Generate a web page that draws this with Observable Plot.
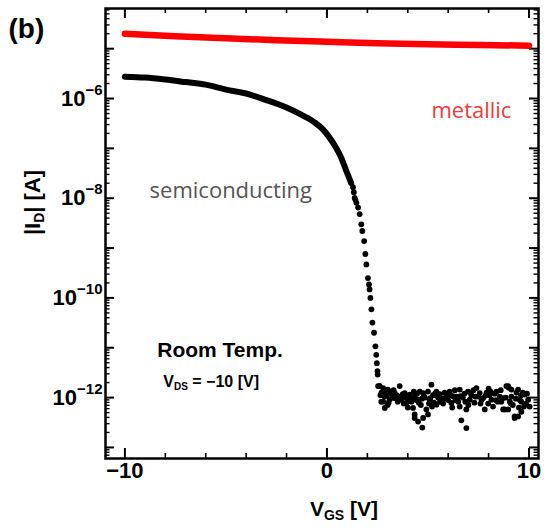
<!DOCTYPE html>
<html><head><meta charset="utf-8">
<script src="https://cdn.jsdelivr.net/npm/d3@7"></script>
<script src="https://cdn.jsdelivr.net/npm/@observablehq/plot@0.6"></script>
<style>html,body{margin:0;padding:0;background:#fff;} #chart{width:549px;height:531px;overflow:hidden;}</style>
</head><body><div id="chart"></div>
<script>
// ---- data ----
const metalVgs = [-10, -7.5, -5, -2.5, 0, 2.5, 5, 7.5, 10];
const metalId  = [2.0e-5, 1.78e-5, 1.62e-5, 1.48e-5, 1.38e-5, 1.29e-5, 1.23e-5, 1.19e-5, 1.15e-5];

const semiLineVgs = [-10, -9, -8, -7, -6, -5, -4, -3, -2, -1.3, -0.6, -0.2, 0.1, 0.4, 0.7, 0.95, 1.2];
const semiLineId  = [2.75e-6, 2.63e-6, 2.4e-6, 2.14e-6, 1.9e-6, 1.51e-6, 1.26e-6, 9.3e-7, 6.6e-7, 4.8e-7, 3.3e-7, 2.4e-7, 1.7e-7, 1.12e-7, 6.6e-8, 3.6e-8, 2.0e-8];

const semiDotVgs = [
  1.29, 1.33, 1.37, 1.41, 1.46, 1.54, 1.62, 1.70, 1.75, 1.84, 1.90, 1.95, 2.03, 2.08, 2.11, 2.15, 2.20, 2.25, 2.33, 2.40, 2.44, 2.47, 2.50, 2.51, 2.60,
  2.53, 2.61, 2.69, 2.78, 2.78, 2.86, 2.90, 2.95, 3.02, 3.10, 3.15, 3.19, 3.25, 3.35, 3.35, 3.45, 3.50, 3.60, 3.62, 3.68,
  3.75, 3.85, 3.90, 3.93, 4.00, 4.10, 4.18, 4.22, 4.26, 4.34, 4.34, 4.34, 4.42, 4.45, 4.51, 4.51, 4.59, 4.65, 4.70, 4.76,
  4.76, 4.72, 4.85, 4.92, 5.00, 5.00, 5.08, 5.12, 5.17, 5.25, 5.30, 5.42, 5.42, 5.50, 5.58, 5.66, 5.75, 5.82, 5.91, 6.00,
  6.07, 6.16, 6.25, 6.33, 6.41, 6.50, 6.57, 6.57, 6.65, 6.72, 6.80, 6.90, 6.90, 6.98, 7.07, 7.15, 7.25, 7.30, 7.40, 7.48,
  7.56, 7.65, 7.73, 7.81, 7.90, 7.98, 8.05, 8.14, 8.22, 8.30, 8.39, 8.45, 8.55, 8.63, 8.72, 8.72, 8.80, 8.88, 8.97, 8.97,
  9.05, 9.13, 9.13, 9.20, 9.29, 9.29, 9.38, 9.46, 9.46, 9.55, 9.62, 9.62, 9.70, 9.79, 9.85, 9.96, 10.03,
  2.70, 2.85, 3.05, 3.30, 3.55, 3.80, 4.05, 4.30, 4.55, 4.80, 5.05, 5.35, 5.60, 5.85, 6.10, 6.35, 6.60, 6.85, 7.10, 7.35,
  7.60, 7.85, 8.10, 8.35, 8.60, 8.85, 9.10, 9.35, 9.60, 9.75, 9.90, 9.50, 9.00, 8.00, 7.00, 6.20, 5.20, 4.00, 3.00, 2.65
];
const semiDotId = [
  1.66e-8, 1.32e-8, 1.02e-8, 9.3e-9, 8.1e-9, 6.5e-9, 4.8e-9, 3.0e-9, 2.2e-9, 1.38e-9, 7.6e-10, 4.7e-10, 2.5e-10, 1.86e-10, 1.48e-10, 1.0e-10, 5.9e-11, 3.2e-11, 2.0e-11, 1.07e-11, 7.2e-12, 4.9e-12, 3.4e-12, 2.9e-12, 1.7e-12,
  1.7e-12, 1.7e-12, 8.3e-13, 1.55e-12, 8.3e-13, 6.2e-13, 1.41e-12, 1.12e-12, 1.45e-12, 9.1e-13, 1.2e-12, 1.32e-12, 1.0e-12, 1.23e-12, 9.8e-13, 1.12e-12, 8.3e-13, 1.7e-12, 1.05e-12, 9.1e-13,
  1.17e-12, 1.23e-12, 1.0e-12, 7.8e-13, 1.1e-12, 1.15e-12, 8.3e-13, 1.0e-12, 6.2e-13, 1.05e-12, 4.6e-13, 3.9e-13, 8.9e-13, 1.2e-12, 9.1e-13, 3.3e-13, 1.32e-12, 7.1e-13, 9.5e-13, 1.23e-12,
  3.9e-13, 2.5e-13, 1.0e-12, 5.8e-13, 1.32e-12, 4.6e-13, 9.1e-13, 9.8e-13, 1.82e-12, 1.12e-12, 7.9e-13, 1.32e-12, 7.2e-13, 1.0e-12, 1.17e-12, 9.8e-13, 7.6e-13, 1.26e-12, 1.15e-12, 8.9e-13,
  1.32e-12, 7.8e-13, 1.07e-12, 1.41e-12, 1.05e-12, 8.3e-13, 1.45e-12, 6.6e-13, 3.5e-13, 1.0e-12, 1.2e-12, 5.8e-13, 2.45e-13, 1.32e-12, 9.1e-13, 1.12e-12, 1.41e-12, 7.9e-13, 1.55e-12, 1.05e-12,
  1.23e-12, 8.9e-13, 9.8e-13, 5.8e-13, 1.26e-12, 7.6e-13, 1.12e-12, 9.1e-13, 6.6e-13, 1.2e-12, 1.32e-12, 8.3e-13, 1.05e-12, 8.3e-13, 9.8e-13, 5.8e-13, 5.8e-13, 1.7e-12, 5.8e-13, 1.7e-12,
  8.3e-13, 1.45e-12, 1.05e-12, 7.1e-13, 4.2e-13, 3.9e-13, 1.26e-12, 1.45e-12, 4.2e-13, 8.9e-13, 5.2e-13, 8.3e-13, 1.26e-12, 1.15e-12, 7.6e-13, 9.1e-13, 6.6e-13,
  1.26e-12, 1.05e-12, 7.9e-13, 1.41e-12, 9.5e-13, 7.6e-13, 8.9e-13, 1.32e-12, 7.9e-13, 1.07e-12, 7.6e-13, 1.2e-12, 8.3e-13, 9.5e-13, 1.12e-12, 8.9e-13, 1.07e-12, 8.3e-13, 1.26e-12, 1.05e-12,
  7.6e-13, 1.1e-12, 1.32e-12, 8.9e-13, 1.41e-12, 1.0e-12, 7.6e-13, 9.5e-13, 1.1e-12, 6.6e-13, 1.2e-12, 6.3e-13, 1.58e-12, 1.51e-12, 7.1e-13, 6.3e-13, 6.6e-13, 6.3e-13, 7.1e-13, 1.12e-12
];

const xTickValues  = [-10, -8, -6, -4, -2, 0, 2, 4, 6, 8, 10];
const xLabelValues = [-10, 0, 10];
const yDecadeExps  = [-13, -12, -11, -10, -9, -8, -7, -6, -5];
const yLabelExps   = [-12, -10, -8, -6];
const yMinorMultipliers = [2, 3, 4, 5, 6, 7, 8, 9];

// ---- layout ----
const W = 549, H = 531;
const mL = 105, mR = 11, mT = 8, mB = 73;
const FW = W - mL - mR, FH = H - mT - mB;
const xDomain = [-10.96, 10.47];
const yDomain = [6.0e-14, 6.4e-5];

const yMajor = yDecadeExps.map(e => Math.pow(10, e));
const yMinor = [];
for (let e = -14; e <= -5; e++) for (const k of yMinorMultipliers) {
  const v = k * Math.pow(10, e);
  if (v > yDomain[0] && v < yDomain[1]) yMinor.push(v);
}
const yLabels = yLabelExps.map(e => Math.pow(10, e));
const xMajor = xLabelValues;
const xMinor = xTickValues.filter(v => !xLabelValues.includes(v));

const bold = "bold";
const plot = Plot.plot({
  width: W, height: H,
  marginLeft: mL, marginRight: mR, marginTop: mT, marginBottom: mB,
  style: {fontFamily: "'Liberation Sans', Arial, sans-serif", background: "white", overflow: "visible"},
  x: {domain: xDomain, axis: null},
  y: {type: "log", domain: yDomain, axis: null},
  marks: [
    // ticks (inside, mirrored)
    Plot.tickX(xMajor, {x: d => d, insetTop: FH - 10, strokeWidth: 2}),
    Plot.tickX(xMinor, {x: d => d, insetTop: FH - 5, strokeWidth: 1.6}),
    Plot.tickX(xMajor, {x: d => d, insetBottom: FH - 10, strokeWidth: 2}),
    Plot.tickX(xMinor, {x: d => d, insetBottom: FH - 5, strokeWidth: 1.6}),
    Plot.tickY(yMajor, {y: d => d, insetRight: FW - 9, strokeWidth: 2}),
    Plot.tickY(yMinor, {y: d => d, insetRight: FW - 4.5, strokeWidth: 1.4}),
    Plot.tickY(yMajor, {y: d => d, insetLeft: FW - 9, strokeWidth: 2}),
    Plot.tickY(yMinor, {y: d => d, insetLeft: FW - 4.5, strokeWidth: 1.4}),
    // data
    Plot.line(metalVgs, {x: metalVgs, y: metalId, stroke: "#ff0000", strokeWidth: 6.5, curve: "monotone-x", strokeLinecap: "round"}),
    Plot.line(semiLineVgs, {x: semiLineVgs, y: semiLineId, stroke: "black", strokeWidth: 6, curve: "monotone-x", strokeLinecap: "round"}),
    Plot.dot(semiDotVgs, {x: semiDotVgs, y: semiDotId, r: 2.9, fill: "black", stroke: "none"}),
    // tick labels
    Plot.text(xLabelValues, {x: d => d, text: d => d < 0 ? "\u2212" + Math.abs(d) : String(d),
      frameAnchor: "bottom", lineAnchor: "bottom", dy: 19, fontSize: 22, fontWeight: bold}),
    Plot.text(yLabels, {y: d => d, text: d => "10^" + Math.round(Math.log10(d)),
      frameAnchor: "left", textAnchor: "end", lineAnchor: "bottom", dx: -3, dy: 7, fontSize: 22, fontWeight: bold}),
    // axis labels
    Plot.text(["|ID| [A]"], {text: d => d, frameAnchor: "left", dx: -73, dy: -31, rotate: -90,
      textAnchor: "middle", lineAnchor: "middle", fontSize: 22, fontWeight: bold}),
    Plot.text(["VGS [V]"], {text: d => d, frameAnchor: "bottom", dx: 22, dy: 57,
      textAnchor: "middle", lineAnchor: "bottom", fontSize: 21, fontWeight: bold}),
    Plot.text(["(b)"], {text: d => d, frameAnchor: "top-left", dx: -97, dy: 29,
      textAnchor: "start", lineAnchor: "bottom", fontSize: 28, fontWeight: bold}),
    // annotations
    Plot.text(["metallic"], {text: d => d, x: 7.15, y: 4.0e-7, textAnchor: "middle", lineAnchor: "bottom",
      fontSize: 22, fill: "#ee3b3b", fontFamily: "'Open Sans', sans-serif"}),
    Plot.text(["semiconducting"], {text: d => d, x: -4.76, y: 1.0e-8, textAnchor: "middle", lineAnchor: "bottom",
      fontSize: 22, fill: "#555555", fontFamily: "'Open Sans', sans-serif"}),
    Plot.text(["Room Temp."], {text: d => d, x: -8.4, y: 6.6e-12, textAnchor: "start", lineAnchor: "bottom",
      fontSize: 21, fontWeight: bold}),
    Plot.text(["VDS = \u221210 [V]"], {text: d => d, x: -8.1, y: 1.66e-12, textAnchor: "start", lineAnchor: "bottom",
      fontSize: 16, fontWeight: bold}),
    Plot.frame({stroke: "black", strokeWidth: 2.5})
  ]
});
document.getElementById("chart").appendChild(plot);

// rich text (super/subscripts) as tspans
const NS = "http://www.w3.org/2000/svg";
function rich(el, parts) {
  el.textContent = "";
  let shift = 0;
  for (const p of parts) {
    const ts = document.createElementNS(NS, "tspan");
    ts.textContent = p.t;
    if (p.size) ts.setAttribute("font-size", p.size);
    const target = p.dy || 0;
    if (target !== shift) ts.setAttribute("dy", target - shift);
    shift = target;
    el.appendChild(ts);
  }
}
plot.querySelectorAll("text").forEach(t => {
  const s = t.textContent;
  if (s.startsWith("10^")) {
    const e = s.slice(3).replace("-", "\u2212");
    rich(t, [{t: "10"}, {t: e, size: 15, dy: -11}]);
  } else if (s === "|ID| [A]") {
    rich(t, [{t: "|I"}, {t: "D", size: 14, dy: 4}, {t: "| [A]", dy: 0}]);
  } else if (s === "VGS [V]") {
    rich(t, [{t: "V"}, {t: "GS", size: 14, dy: 4}, {t: " [V]", dy: 0}]);
  } else if (s.startsWith("VDS")) {
    rich(t, [{t: "V"}, {t: "DS", size: 10, dy: 3}, {t: " = \u221210 [V]", dy: 0}]);
  }
});
</script>
</body></html>
